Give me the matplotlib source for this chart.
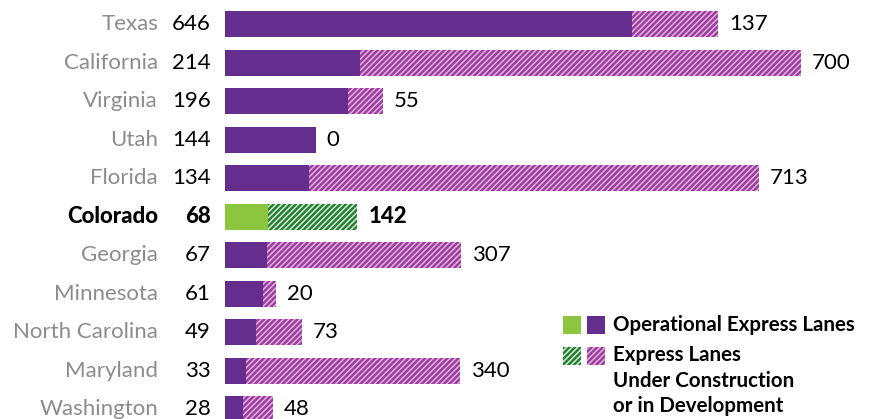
import matplotlib
matplotlib.use("Agg")
import matplotlib.pyplot as plt
from matplotlib.patches import Rectangle
import matplotlib.transforms as mtransforms

plt.rcParams['font.family'] = ['Lato', 'DejaVu Sans']
plt.rcParams['hatch.linewidth'] = 1.7

states = ["Texas", "California", "Virginia", "Utah", "Florida", "Colorado",
          "Georgia", "Minnesota", "North Carolina", "Maryland", "Washington"]
operational = [646, 214, 196, 144, 134, 68, 67, 61, 49, 33, 28]
development = [137, 700, 55, 0, 713, 142, 307, 20, 73, 340, 48]
highlight = "Colorado"

PURPLE = "#652d8e"
PURPLE_BG = "#ddb3dc"
PURPLE_LINE = "#9c3aa0"
GREEN = "#8cc63f"
GREEN_BG = "#d9ecc4"
GREEN_LINE = "#1f7d3c"
GRAY = "#8c8c8c"

W, H = 872, 419
fig = plt.figure(figsize=(W / 100, H / 100), dpi=100)
ax = fig.add_axes([225 / W, 0, 1 - 225 / W, 1])
px_per_unit = 0.63
ax.set_xlim(0, (W - 225) / px_per_unit)
row = 38.5
ax.set_ylim((H - 24) / row, -24 / row)
ax.axis("off")

bar_h = 26 / row
fs = 16
for i, (s, o, d) in enumerate(zip(states, operational, development)):
    hl = s == highlight
    c = GREEN if hl else PURPLE
    bg = GREEN_BG if hl else PURPLE_BG
    ln = GREEN_LINE if hl else PURPLE_LINE
    ax.barh(i, o, height=bar_h, color=c, edgecolor="none")
    if d > 0:
        ax.barh(i, d, left=o, height=bar_h, color=bg, edgecolor=ln,
                hatch="//////", linewidth=0)
    weight = 900 if hl else "normal"
    trans_l = mtransforms.offset_copy(ax.transData, fig=fig, x=-67 * 0.72, y=0, units="points")
    ax.text(0, i, s, transform=trans_l, ha="right", va="center", fontsize=fs,
            color="black" if hl else GRAY, fontweight=weight, clip_on=False)
    trans_v = mtransforms.offset_copy(ax.transData, fig=fig, x=-14 * 0.72, y=0, units="points")
    ax.text(0, i, str(o), transform=trans_v, ha="right", va="center", fontsize=fs,
            color="black", fontweight=weight, clip_on=False)
    trans_r = mtransforms.offset_copy(ax.transData, fig=fig, x=11 * 0.72, y=0, units="points")
    ax.text(o + d, i, str(d), transform=trans_r, ha="left", va="center", fontsize=fs,
            color="black", fontweight=weight, clip_on=False)

# Legend (figure pixel coords)
def fx(x):
    return x / W

def fy(y):
    return 1 - y / H

sq = 18
fig.patches.append(Rectangle((fx(563), fy(316 + sq)), sq / W, sq / H, transform=fig.transFigure,
                             facecolor=GREEN, edgecolor="none"))
fig.patches.append(Rectangle((fx(587), fy(316 + sq)), sq / W, sq / H, transform=fig.transFigure,
                             facecolor=PURPLE, edgecolor="none"))
fig.patches.append(Rectangle((fx(563), fy(347 + sq)), sq / W, sq / H, transform=fig.transFigure,
                             facecolor=GREEN_BG, edgecolor=GREEN_LINE, hatch="//////", linewidth=0))
fig.patches.append(Rectangle((fx(587), fy(347 + sq)), sq / W, sq / H, transform=fig.transFigure,
                             facecolor=PURPLE_BG, edgecolor=PURPLE_LINE, hatch="//////", linewidth=0))
lfs = 14.8
fig.text(fx(613), fy(325), "Operational Express Lanes", ha="left", va="center",
         fontsize=lfs, fontweight="bold")
for j, t in enumerate(["Express Lanes", "Under Construction", "or in Development"]):
    fig.text(fx(613), fy(355 + 25.5 * j), t, ha="left", va="center",
             fontsize=lfs, fontweight="bold")

fig.savefig("out.png", dpi=100)
